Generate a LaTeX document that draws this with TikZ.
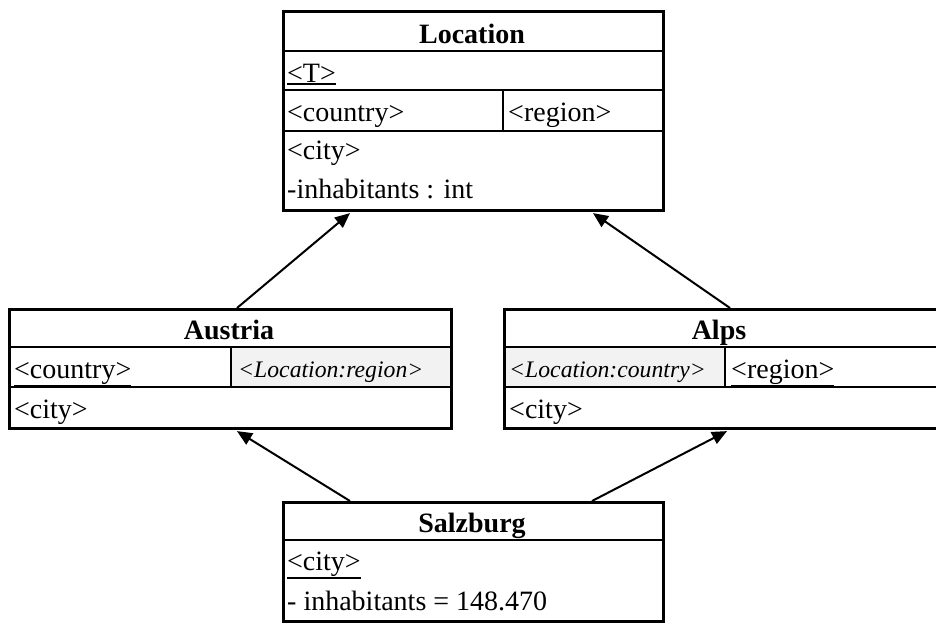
\documentclass[tikz,border=0pt]{standalone}
\usepackage{fontspec}
\setmainfont{Liberation Serif}
\usetikzlibrary{arrows.meta,calc}
\definecolor{cellgray}{HTML}{F2F2F2}
\newbox\ulbx
\newdimen\uldim
\newcommand\ulin[1]{\setbox\ulbx=\hbox{#1}\uldim=\dp\ulbx\advance\uldim by 1.2pt\rlap{\vrule height -\uldim depth \dimexpr\uldim+2.2pt\relax width \wd\ulbx}\box\ulbx}
\begin{document}
\begin{tikzpicture}[x=1pt,y=-1pt,
  box/.style={draw=black,line width=2.6pt,rectangle,inner sep=0pt,anchor=north west},
  sep/.style={draw=black,line width=2.6pt},
  ttl/.style={font=\fontsize{28}{30}\selectfont\bfseries,anchor=base,inner sep=0pt},
  txt/.style={font=\fontsize{28}{30}\selectfont,anchor=base west,inner sep=0pt},
  itx/.style={font=\fontsize{23.7}{26}\selectfont\itshape,anchor=base west,inner sep=0pt},
  arr/.style={draw=black,line width=2pt,-{Triangle[length=15pt,width=13pt]}}]
\useasboundingbox (0,0) rectangle (936,622);
% gray cells
\fill[cellgray] (231,347) rectangle (450,387);
\fill[cellgray] (503,347) rectangle (725,387);
% boxes
\node[box,minimum width=380pt,minimum height=199pt] (loc) at (282,10) {};
\node[box,minimum width=442pt,minimum height=119pt] (aus) at (8,308) {};
\node[box,minimum width=440pt,minimum height=119pt] (alps) at (503,308) {};
\node[box,minimum width=380pt,minimum height=119pt] (salz) at (282,501) {};
% Location compartments
\draw[sep] (282,51) -- (662,51);
\draw[sep] (282,90) -- (662,90);
\draw[sep] (282,131) -- (662,131);
\draw[sep] (503,90) -- (503,131);
\node[ttl] (locT) at (472,43) {Location};
\node[txt] (locP) at (287,82) {\ulin{<T>}};
\node[txt] (locC) at (287,121) {<country>};
\node[txt] (locR) at (508,121) {<region>};
\node[txt] (locCi) at (287,159) {<city>};
\node[txt] (locI) at (287,198) {-inhabitants : int};
% Austria compartments
\draw[sep] (8,347) -- (450,347);
\draw[sep] (8,387) -- (450,387);
\draw[sep] (231,347) -- (231,387);
\node[ttl] (ausT) at (229,339) {Austria};
\node[txt] (ausC) at (14,378) {\ulin{<country>}};
\node[itx] (ausR) at (238,377) {<Location:region>};
\node[txt] (ausCi) at (14,418) {<city>};
% Alps compartments
\draw[sep] (503,347) -- (943,347);
\draw[sep] (503,387) -- (943,387);
\draw[sep] (725,347) -- (725,387);
\node[ttl] (alpsT) at (719,339) {Alps};
\node[itx] (alpsC) at (509,377) {<Location:country>};
\node[txt] (alpsR) at (731,378) {\ulin{<region>}};
\node[txt] (alpsCi) at (509,418) {<city>};
% Salzburg compartments
\draw[sep] (282,540) -- (662,540);
\node[ttl] (salzT) at (472,532) {Salzburg};
\node[txt] (salzC) at (287,570) {\ulin{<city>}};
\node[txt] (salzI) at (287,610) {- inhabitants = 148.470};
% generalisation arrows
\draw[arr] ($(aus.north west)+(229,0)$) -- ($(loc.south west)+(68,1.5)$);
\draw[arr] ($(alps.north west)+(227,0)$) -- ($(loc.south west)+(311,1.5)$);
\draw[arr] ($(salz.north west)+(68,0)$) -- ($(aus.south west)+(229,1.5)$);
\draw[arr] ($(salz.north west)+(310,0)$) -- ($(alps.south west)+(224,1.5)$);
\end{tikzpicture}
\end{document}
